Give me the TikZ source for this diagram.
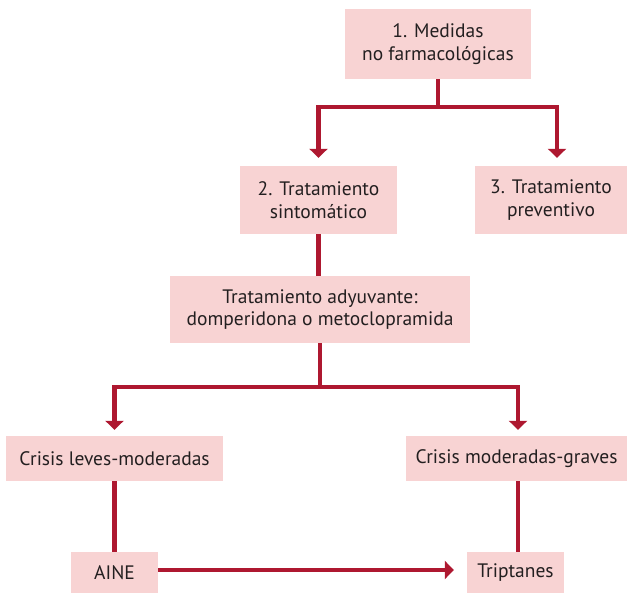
\documentclass[tikz,border=0pt]{standalone}
\usepackage{fontspec}
\setmainfont{PT Sans}
\usetikzlibrary{arrows.meta}
\definecolor{boxfill}{HTML}{F8D3D3}
\definecolor{linkred}{HTML}{AE1830}
\definecolor{inktext}{HTML}{231F20}
\begin{document}
\begin{tikzpicture}[x=1pt,y=-1pt,
  box/.style={fill=boxfill, draw=none, inner sep=0pt, align=center,
    text=inktext, font=\fontsize{19.5}{22.5}\selectfont},
  link/.style={draw=linkred, line width=4.5pt},
  arr/.style={link, -{Triangle[width=18pt,length=9pt]}}]
\useasboundingbox (0,0) rectangle (627,593);
\node[box, minimum width=186, minimum height=70] (b1) at (438,44) {1. Medidas\\no farmacológicas};
\node[box, minimum width=157, minimum height=68] (b2) at (318.5,200) {2. Tratamiento\\sintomático};
\node[box, minimum width=152, minimum height=68] (b3) at (551,200) {3. Tratamiento\\preventivo};
\node[box, minimum width=300, minimum height=67] (adj) at (320,309.5) {Tratamiento adyuvante:\\domperidona o metoclopramida};
\node[box, minimum width=217, minimum height=45] (cl) at (114.5,458.5) {Crisis leves-moderadas};
\node[box, minimum width=221, minimum height=45] (cg) at (516.5,458.5) {Crisis moderadas-graves};
\node[box, minimum width=87, minimum height=41] (aine) at (114.5,572.5) {AINE};
\node[box, minimum width=97, minimum height=41] (trip) at (515.5,572.5) {Triptanes};
% first split
\draw[arr, shorten >=8pt] (b1.south) -- ++(0,28) -| (b2.north);
\draw[arr, shorten >=8pt] (b1.south) -- ++(0,28) -| ([xshift=6pt]b3.north);
% symptomatic treatment to adjuvant
\draw[link] (b2.south) -- (b2.south |- adj.north);
% second split
\draw[arr, shorten >=6pt] (adj.south) -- ++(0,44) -| (cl.north);
\draw[arr, shorten >=6pt] (adj.south) -- ++(0,44) -| ([xshift=1.5pt]cg.north);
% drugs
\draw[link] (cl.south) -- (aine.north);
\draw[link] ([xshift=1.5pt]cg.south) -- ([xshift=1.5pt]cg.south |- trip.north);
\draw[arr, shorten >=13pt] ([yshift=2.5pt]aine.east) -- ([yshift=2.5pt]trip.west);
\end{tikzpicture}
\end{document}
